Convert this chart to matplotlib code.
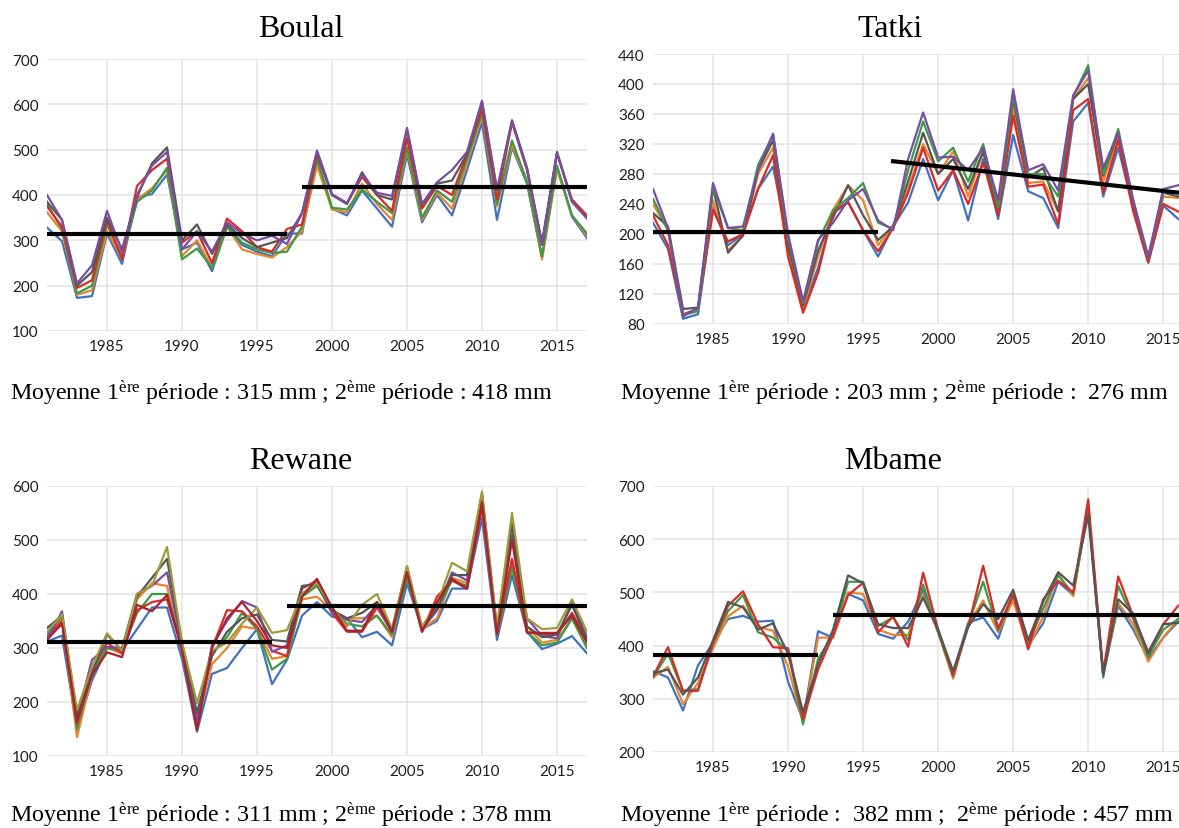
import matplotlib
matplotlib.use("Agg")
import matplotlib.pyplot as plt
import numpy as np

plt.rcParams['mathtext.fontset'] = 'custom'
plt.rcParams['mathtext.rm'] = 'Liberation Serif'
plt.rcParams['mathtext.it'] = 'Liberation Serif:italic'

# ---------------- DATA ----------------
years_a = list(range(1981, 2018))   # Boulal, Rewane
years_b = list(range(1981, 2017))   # Tatki, Mbame (chart cropped at right)

# Boulal
boulal_blue   = [328,298,173,177,315,248,395,402,445,280,295,232,330,290,275,265,315,315,480,370,355,410,370,330,490,340,400,355,455,560,345,505,425,262,460,352,305]
boulal_orange = [362,320,180,190,320,260,390,415,455,265,300,240,330,280,270,262,285,320,465,368,362,425,380,345,500,345,405,370,470,575,375,510,430,258,458,355,310]
boulal_green  = [380,325,183,200,335,265,385,410,460,258,282,240,330,295,280,272,275,330,480,372,368,412,385,360,505,350,410,385,480,580,380,520,430,265,465,355,315]
boulal_red    = [375,330,195,212,345,258,420,455,480,295,320,250,348,320,285,275,325,335,490,400,382,440,400,365,525,370,420,400,490,590,390,560,455,290,492,390,355]
boulal_gray   = [385,345,200,230,350,280,395,470,505,300,335,270,335,305,285,295,305,360,495,400,380,450,400,390,545,378,425,432,490,605,410,565,460,295,495,385,350]
boulal_purple = [400,345,205,245,365,275,400,465,495,280,320,275,340,315,300,310,292,360,498,402,382,445,405,398,548,380,428,455,495,608,412,562,458,292,493,385,348]

# Tatki
tatki_blue   = [215,180,87,93,235,185,200,260,290,190,100,155,228,242,205,170,210,242,300,245,285,218,300,220,332,257,248,208,350,375,250,315,235,162,238,220]
tatki_orange = [240,205,92,100,245,178,198,280,315,175,100,170,232,265,245,185,212,260,320,280,310,250,310,240,370,268,270,230,380,408,270,330,240,165,250,248]
tatki_gray   = [228,210,100,102,262,175,198,285,325,185,105,178,222,265,225,192,210,270,335,280,300,260,310,230,380,275,288,230,380,400,278,335,240,163,255,250]
tatki_red    = [225,185,93,100,232,190,200,260,305,170,95,148,230,243,205,177,208,255,315,258,285,240,295,225,358,263,266,213,365,380,255,325,230,162,240,230]
tatki_green  = [247,205,92,97,262,208,205,292,332,195,108,190,232,248,268,215,207,285,350,297,315,270,320,235,385,280,280,250,383,425,280,340,245,168,257,255]
tatki_purple = [260,208,90,102,268,208,210,285,334,200,110,192,215,245,260,218,205,300,362,302,303,285,315,245,393,285,293,258,385,418,288,335,245,170,260,265]

# Rewane
rewane_blue    = [312,323,150,240,300,295,335,375,375,280,145,252,263,300,335,233,278,360,385,358,355,320,330,305,420,335,350,410,410,540,315,435,330,298,308,322,290]
rewane_orange  = [318,355,135,250,300,290,390,420,415,295,160,270,300,340,335,280,285,390,395,370,355,355,360,320,440,335,355,430,420,570,325,450,340,310,315,355,300]
rewane_green   = [325,360,150,255,300,295,365,400,400,300,170,290,320,365,335,260,280,395,415,370,345,340,360,325,430,335,370,425,415,575,325,450,330,305,310,355,300]
rewane_red     = [320,350,160,260,310,290,370,385,390,300,150,300,370,368,340,295,285,410,425,365,330,330,375,330,445,330,395,425,410,560,330,465,330,325,325,365,315]
rewane_purple  = [315,368,170,278,302,300,400,415,440,305,165,305,350,387,375,293,305,400,420,365,352,348,380,330,445,335,370,440,425,580,330,510,355,322,318,385,320]
rewane_gray    = [337,360,175,255,325,295,395,430,465,310,180,285,330,355,362,315,312,415,418,370,355,365,385,335,450,335,375,435,435,585,335,530,340,320,325,380,315]
rewane_olive   = [330,362,185,265,327,295,400,415,487,310,198,295,310,345,375,328,333,400,420,375,340,380,400,335,452,340,380,458,442,590,340,550,355,335,337,390,330]
rewane_darkred = [315,345,165,250,292,283,380,368,398,295,148,300,355,385,350,305,300,395,428,375,332,332,385,330,440,330,385,428,410,570,325,500,328,328,328,360,310]

# Mbame
mbame_blue   = [352,340,278,363,405,450,456,445,447,332,260,427,415,497,485,422,413,445,505,425,350,443,453,413,495,400,442,520,495,660,345,475,430,375,415,445]
mbame_orange = [340,360,290,330,395,455,475,435,428,360,255,415,415,500,497,430,420,420,495,425,338,440,485,425,485,395,455,535,493,660,345,480,440,370,415,450]
mbame_green  = [340,385,315,318,405,465,495,425,415,390,252,375,420,520,520,437,453,410,515,425,342,440,520,428,497,405,470,532,497,660,340,512,450,380,430,450]
mbame_red    = [342,397,315,315,405,475,502,440,397,395,262,355,420,495,518,425,455,398,537,430,345,435,550,432,497,393,487,522,500,675,350,530,455,388,440,475]
mbame_gray   = [348,355,308,340,410,482,472,430,442,385,275,365,430,532,517,440,433,433,490,430,352,435,478,450,505,410,483,538,513,645,345,487,460,385,440,443]

# Period means: (value, start year, end year)
boulal_means = [(315, 1981, 1997), (418, 1998, 2017)]
tatki_means  = [(203, 1981, 1996)]
tatki_trend  = [(1997, 297), (2017, 253)]
rewane_means = [(311, 1981, 1996), (378, 1997, 2017)]
mbame_means  = [(382, 1981, 1992), (457, 1993, 2017)]

# ---------------- STYLE ----------------
C = {
    'blue': '#3F72C0', 'orange': '#E8842F', 'green': '#3D9A45', 'red': '#DA2A27',
    'purple': '#7A4DA3', 'gray': '#555555', 'olive': '#A09A3A', 'darkred': '#A8232C',
}
W, H = 1179, 829
fig = plt.figure(figsize=(W / 100, H / 100), dpi=100)

def ax_at(x0, y0, x1, y1):
    return fig.add_axes([x0 / W, 1 - y1 / H, (x1 - x0) / W, (y1 - y0) / H])

def style(ax, xlim, ylim, yticks):
    ax.set_xlim(*xlim)
    ax.set_ylim(*ylim)
    ax.set_xticks(range(1985, 2016, 5))
    ax.set_yticks(yticks)
    for s in ax.spines.values():
        s.set_visible(False)
    ax.grid(True, color='#E3E3E3', linewidth=1.1)
    ax.set_axisbelow(True)
    ax.tick_params(length=0, labelsize=11, labelcolor='#1E1E1E', pad=6)
    for lab in ax.get_xticklabels() + ax.get_yticklabels():
        lab.set_fontfamily('Lato')

def means(ax, ms):
    for v, a, b in ms:
        ax.plot([a, b], [v, v], color='black', lw=3.0, solid_capstyle='butt', zorder=5)

# Boulal
ax1 = ax_at(47, 60, 587, 332)
for key, s in [('blue', boulal_blue), ('orange', boulal_orange), ('green', boulal_green),
               ('red', boulal_red), ('gray', boulal_gray), ('purple', boulal_purple)]:
    ax1.plot(years_a, s, color=C[key], lw=1.6)
means(ax1, boulal_means)
style(ax1, (1981, 2017), (100, 700), range(100, 701, 100))

# Tatki
ax2 = ax_at(653, 55, 1179, 325)
for key, s in [('blue', tatki_blue), ('orange', tatki_orange), ('gray', tatki_gray),
               ('red', tatki_red), ('green', tatki_green), ('purple', tatki_purple)]:
    ax2.plot(years_b, s, color=C[key], lw=1.6)
means(ax2, tatki_means)
ax2.plot([p[0] for p in tatki_trend], [p[1] for p in tatki_trend], color='black', lw=3.0, zorder=5)
style(ax2, (1981, 2016.05), (80, 440), range(80, 441, 40))

# Rewane
ax3 = ax_at(47, 487, 587, 757)
for key, s in [('blue', rewane_blue), ('orange', rewane_orange), ('green', rewane_green),
               ('red', rewane_red), ('purple', rewane_purple), ('gray', rewane_gray),
               ('olive', rewane_olive), ('darkred', rewane_darkred)]:
    ax3.plot(years_a, s, color=C[key], lw=1.6)
means(ax3, rewane_means)
style(ax3, (1981, 2017), (100, 600), range(100, 601, 100))

# Mbame
ax4 = ax_at(653, 487, 1179, 753)
for key, s in [('blue', mbame_blue), ('orange', mbame_orange), ('green', mbame_green),
               ('red', mbame_red), ('gray', mbame_gray)]:
    ax4.plot(years_b, s, color=C[key], lw=1.6)
means(ax4, mbame_means)
style(ax4, (1981, 2016.05), (200, 700), range(200, 701, 100))

# Titles
serif = 'Liberation Serif'
for txt, x, y in [('Boulal', 301, 37), ('Tatki', 890, 37), ('Rewane', 301, 469), ('Mbame', 893, 469)]:
    fig.text(x / W, 1 - y / H, txt, fontsize=23, family=serif, ha='center', va='baseline')

# Captions
caps = [
    (10, 400, r"Moyenne $1^{\mathrm{ère}}$ période : 315 mm ; $2^{\mathrm{ème}}$ période : 418 mm"),
    (620, 400, r"Moyenne $1^{\mathrm{ère}}$ période : 203 mm ; $2^{\mathrm{ème}}$ période :  276 mm"),
    (10, 822, r"Moyenne $1^{\mathrm{ère}}$ période : 311 mm ; $2^{\mathrm{ème}}$ période : 378 mm"),
    (620, 822, r"Moyenne $1^{\mathrm{ère}}$ période :  382 mm ;  $2^{\mathrm{ème}}$ période : 457 mm"),
]
for x, y, t in caps:
    fig.text(x / W, 1 - y / H, t, fontsize=17.3, family=serif, ha='left', va='baseline')

fig.savefig('out.png', dpi=100)
